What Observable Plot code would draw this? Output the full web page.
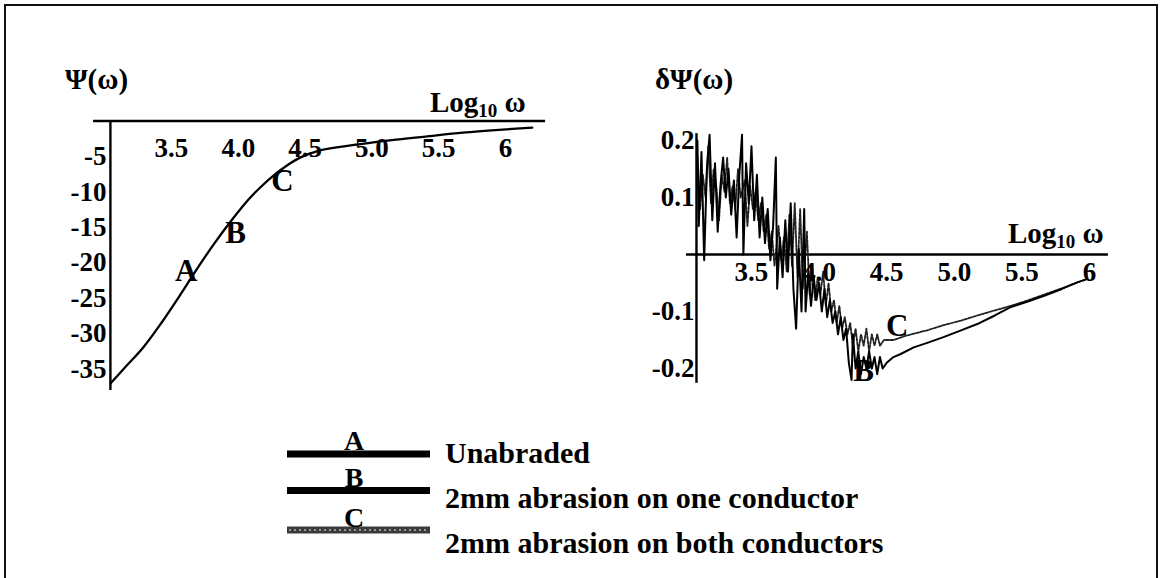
<!DOCTYPE html>
<html><head><meta charset="utf-8">
<script src="https://cdn.jsdelivr.net/npm/d3@7"></script>
<script src="https://cdn.jsdelivr.net/npm/@observablehq/plot@0.6"></script>
<style>
html,body{margin:0;padding:0;background:#fff;}
#wrap{position:relative;width:1161px;height:578px;overflow:hidden;background:#fff;font-family:"Liberation Serif",serif;}
#frame{position:absolute;left:4px;top:4px;width:1150px;height:600px;border-left:2px solid #111;border-top:2px solid #111;border-right:2px solid #111;}
.panel{position:absolute;top:0;}
</style></head><body>
<div id="wrap"><div id="frame"></div><div id="left" class="panel" style="left:0px"></div><div id="right" class="panel" style="left:640px"></div><div id="legend" style="position:absolute;left:0;top:0"></div></div>
<script>
// ---------- data ----------
// Left panel: Psi(omega) vs log10 omega
const psiLog = [3.045, 3.15, 3.29, 3.42, 3.57, 3.70, 3.82, 3.95, 4.08, 4.18, 4.27, 4.37, 4.47, 4.6, 4.75, 4.9, 5.15, 5.4, 5.68, 5.95, 6.2];
const psiVal = [-37, -34.8, -31.9, -28.6, -24.4, -20.6, -17.3, -14.0, -11.0, -9.1, -7.6, -6.2, -5.1, -4.2, -3.7, -3.3, -2.7, -2.2, -1.65, -1.25, -0.95];
const leftXTicks = [3.5, 4.0, 4.5, 5.0, 5.5, 6.0];
const leftXTickLabels = ["3.5", "4.0", "4.5", "5.0", "5.5", "6"];
const leftYTicks = [-5, -10, -15, -20, -25, -30, -35];
const leftYTickLabels = ["-5", "-10", "-15", "-20", "-25", "-30", "-35"];
const leftCurveLabels = ["A", "B", "C"];
const leftCurveLabelLog = [3.61, 3.98, 4.33];
const leftCurveLabelVal = [-21.1, -15.8, -8.45];

// Right panel: delta Psi(omega), curve B (solid) and curve C (dotted)
const bLog = [3.10,3.11,3.13,3.15,3.17,3.19,3.21,3.23,3.25,3.27,3.29,3.31,3.33,3.35,3.37,3.39,3.41,3.43,3.44,3.46,3.48,3.50,3.52,3.54,3.56,3.58,3.60,3.62,3.64,3.66,3.68,3.69,3.71,3.73,3.75,3.77,3.79,3.81,3.83,3.85,3.87,3.89,3.90,3.92,3.94,3.96,3.98,4.00,4.02,4.04,4.06,4.08,4.10,4.12,4.14,4.16,4.18,4.20,4.22,4.24,4.25,4.27,4.29,4.31,4.33,4.35,4.37,4.39,4.41,4.43,4.45,4.47,4.50,4.55,4.60,4.70,4.80,4.92,5.05,5.17,5.30,5.42,5.55,5.67,5.80,5.91,5.97];
const bVal = [0.20,0.05,0.18,-0.01,0.15,0.21,0.06,0.16,0.04,0.12,0.17,0.10,0.15,0.07,0.13,0.03,0.14,0.21,0.00,0.16,0.09,0.19,0.06,0.14,0.03,0.10,0.02,0.08,-0.01,0.05,0.17,-0.06,0.03,-0.04,0.06,-0.03,0.09,-0.06,-0.13,0.01,-0.10,0.08,-0.10,-0.03,-0.09,-0.04,-0.08,-0.05,-0.10,-0.06,-0.11,-0.08,-0.12,-0.10,-0.14,-0.11,-0.15,-0.13,-0.19,-0.22,-0.14,-0.20,-0.17,-0.21,-0.18,-0.20,-0.17,-0.20,-0.18,-0.21,-0.18,-0.20,-0.19,-0.18,-0.175,-0.163,-0.155,-0.145,-0.133,-0.122,-0.107,-0.092,-0.082,-0.072,-0.060,-0.049,-0.044];
const cLog = [3.10,3.12,3.14,3.16,3.18,3.20,3.22,3.24,3.26,3.28,3.30,3.32,3.34,3.36,3.38,3.40,3.42,3.45,3.47,3.49,3.51,3.53,3.55,3.57,3.59,3.61,3.63,3.65,3.67,3.70,3.72,3.74,3.76,3.78,3.80,3.82,3.84,3.86,3.88,3.91,3.93,3.95,3.97,3.99,4.01,4.03,4.05,4.07,4.09,4.11,4.13,4.15,4.17,4.19,4.21,4.23,4.25,4.27,4.29,4.31,4.33,4.35,4.37,4.39,4.41,4.43,4.45,4.48,4.55,4.65,4.80,4.92,5.05,5.17,5.30,5.42,5.54,5.67,5.80,5.91,5.97];
const cVal = [0.17,0.08,0.14,0.10,0.19,0.09,0.15,0.12,0.06,0.14,0.11,0.17,0.09,0.12,0.08,0.15,0.10,0.13,0.05,0.12,0.08,0.11,0.06,0.09,0.04,0.07,0.01,0.04,-0.02,0.05,-0.01,0.03,-0.03,0.07,-0.02,0.09,-0.04,0.08,-0.06,0.04,-0.07,-0.02,-0.08,-0.04,-0.07,-0.03,-0.09,-0.05,-0.10,-0.08,-0.12,-0.09,-0.13,-0.11,-0.14,-0.12,-0.16,-0.13,-0.17,-0.14,-0.16,-0.13,-0.17,-0.14,-0.16,-0.14,-0.16,-0.15,-0.150,-0.142,-0.133,-0.124,-0.116,-0.107,-0.098,-0.090,-0.081,-0.070,-0.059,-0.049,-0.044];
const rightXTicks = [3.5, 4.0, 4.5, 5.0, 5.5, 6.0];
const rightXTickLabels = ["3.5", "4.0", "4.5", "5.0", "5.5", "6"];
const rightYTicks = [0.2, 0.1, -0.1, -0.2];
const rightYTickLabels = ["0.2", "0.1", "-0.1", "-0.2"];
const rightCurveLabels = ["B", "C"];
const rightCurveLabelLog = [4.33, 4.578];
const rightCurveLabelVal = [-0.205, -0.126];

// Legend
const legendKeys = ["A", "B", "C"];
const legendTexts = ["Unabraded", "2mm abrasion on one conductor", "2mm abrasion on both conductors"];

// ---------- build ----------
const F = "Liberation Serif, Times New Roman, serif";
const zip = (a, b) => a.map((v, i) => ({x: v, y: b[i]}));
const psiData = zip(psiLog, psiVal);
const bData = zip(bLog, bVal);
const cData = zip(cLog, cVal);
const lx = leftXTicks.map((v, i) => ({v, t: leftXTickLabels[i]}));
const ly = leftYTicks.map((v, i) => ({v, t: leftYTickLabels[i]}));
const rx = rightXTicks.map((v, i) => ({v, t: rightXTickLabels[i]}));
const ry = rightYTicks.map((v, i) => ({v, t: rightYTickLabels[i]}));
const lLab = leftCurveLabels.map((t, i) => ({t, x: leftCurveLabelLog[i], y: leftCurveLabelVal[i]}));
const rLab = rightCurveLabels.map((t, i) => ({t, x: rightCurveLabelLog[i], y: rightCurveLabelVal[i]}));

const tickFont = {fontSize: 27, fontWeight: "bold", fontFamily: F, fill: "#000"};
const letterFont = {fontSize: 31, fontWeight: "bold", fontFamily: F, fill: "#000"};

const leftPlot = Plot.plot({
  width: 640, height: 420, margin: 0,
  style: {background: "none", fontFamily: F, overflow: "visible"},
  x: {domain: [2.9, 6.3], range: [90.8, 545.1], axis: null},
  y: {domain: [1, -40], range: [113.4, 404.1], axis: null},
  marks: [
    Plot.ruleY([0], {x1: 2.917, x2: 6.3, strokeWidth: 2.4, stroke: "#000"}),
    Plot.ruleX([3.043], {y1: 0, y2: -38, strokeWidth: 2.4, stroke: "#000"}),
    Plot.text(lx, {x: "v", y: () => 0, text: "t", dy: 27, ...tickFont}),
    Plot.text(ly, {x: () => 3.043, y: "v", text: "t", dx: -4, textAnchor: "end", ...tickFont}),
    Plot.line(psiData, {x: "x", y: "y", curve: "catmull-rom", stroke: "#000", strokeWidth: 2.3}),
    Plot.text(lLab, {x: "x", y: "y", text: "t", ...letterFont})
  ]
});

const rightPlot = Plot.plot({
  width: 521, height: 420, margin: 0,
  style: {background: "none", fontFamily: F, overflow: "visible"},
  x: {domain: [3.0, 6.2], range: [43.4, 476.0], axis: null},
  y: {domain: [0.25, -0.25], range: [111.5, 396.5], axis: null},
  marks: [
    Plot.ruleY([0], {x1: 3.019, x2: 6.14, strokeWidth: 2.4, stroke: "#000"}),
    Plot.ruleX([3.093], {y1: 0.212, y2: -0.226, strokeWidth: 2.4, stroke: "#000"}),
    Plot.line(cData, {x: "x", y: "y", stroke: "#222", strokeWidth: 1.8, strokeDasharray: "3,1.5"}),
    Plot.line(bData, {x: "x", y: "y", stroke: "#000", strokeWidth: 2}),
    Plot.text(rx, {x: "v", y: () => 0, text: "t", dy: 18, ...tickFont}),
    Plot.text(ry, {x: () => 3.093, y: "v", text: "t", dx: -2, textAnchor: "end", ...tickFont}),
    Plot.text(rLab, {x: "x", y: "y", text: "t", ...letterFont})
  ]
});

document.getElementById("left").appendChild(leftPlot);
document.getElementById("right").appendChild(rightPlot);

function addTitle(svg, x, y, parts) {
  const t = d3.select(svg).append("text").attr("x", x).attr("y", y).attr("text-anchor", "start")
    .attr("font-family", F).attr("font-weight", "bold").attr("font-size", 29).attr("fill", "#000");
  parts.forEach(p => {
    const s = t.append("tspan").text(p.s);
    if (p.size) s.attr("font-size", p.size);
    if (p.dy) s.attr("dy", p.dy);
  });
}
const logParts = [{s: "Log"}, {s: "10", size: 19, dy: 5}, {s: " ω", dy: -5}];
addTitle(leftPlot, 65, 89, [{s: "Ψ(ω)"}]);
addTitle(leftPlot, 430, 112, logParts);
addTitle(rightPlot, 15, 89, [{s: "δΨ(ω)"}]);
addTitle(rightPlot, 368, 243, logParts);

// legend (plain svg)
const lg = d3.select("#legend").append("svg").attr("width", 1161).attr("height", 578)
  .style("display", "block");
const rowY = [454, 490.5, 530];
const keyBase = [450, 487, 527];
const textBase = [463, 508, 553];
legendKeys.forEach((k, i) => {
  lg.append("line").attr("x1", 287).attr("x2", 430).attr("y1", rowY[i]).attr("y2", rowY[i])
    .attr("stroke", i === 2 ? "#3a3a3a" : "#000").attr("stroke-width", 7);
  if (i === 2) {
    lg.append("line").attr("x1", 289).attr("x2", 428).attr("y1", rowY[i]).attr("y2", rowY[i])
      .attr("stroke", "#bbb").attr("stroke-width", 1.5).attr("stroke-dasharray", "2,3");
  }
  lg.append("text").attr("x", 354).attr("y", keyBase[i]).attr("text-anchor", "middle")
    .attr("font-family", F).attr("font-weight", "bold").attr("font-size", 28).text(k);
  lg.append("text").attr("x", 445).attr("y", textBase[i])
    .attr("font-family", F).attr("font-weight", "bold").attr("font-size", 30).text(legendTexts[i]);
});
</script>
</body></html>
